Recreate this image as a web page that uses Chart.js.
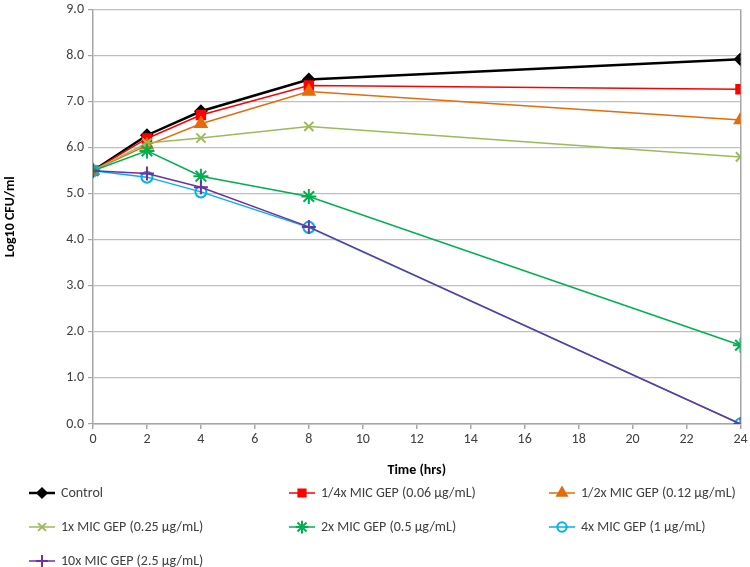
<!DOCTYPE html>
<html>
<head>
<meta charset="utf-8">
<script src="https://cdn.jsdelivr.net/npm/chart.js"></script>
<style>
  html, body { margin: 0; padding: 0; background: #fff; }
  #wrap { width: 750px; height: 567px; position: relative; }
</style>
</head>
<body>
<div id="wrap"><canvas id="chart" width="750" height="567"></canvas></div>
<script>
// Time points (hrs)
const times = [0, 2, 4, 8, 24]

// Log10 CFU/ml for each treatment
const control   = [5.50, 6.27, 6.79, 7.48, 7.92]
const quarterX  = [5.50, 6.20, 6.71, 7.35, 7.27]
const halfX     = [5.50, 6.05, 6.52, 7.22, 6.60]
const oneX      = [5.50, 6.10, 6.21, 6.46, 5.80]
const twoX      = [5.50, 5.93, 5.38, 4.94, 1.71]
const fourX     = [5.50, 5.36, 5.04, 4.27, 0.00]
const tenX      = [5.50, 5.44, 5.14, 4.28, 0.00]

const seriesLabels = [
  'Control',
  '1/4x MIC GEP (0.06 µg/mL)',
  '1/2x MIC GEP (0.12 µg/mL)',
  '1x MIC GEP (0.25 µg/mL)',
  '2x MIC GEP (0.5 µg/mL)',
  '4x MIC GEP (1 µg/mL)',
  '10x MIC GEP (2.5 µg/mL)'
]

const FONT = "Carlito, 'Liberation Sans Narrow', 'Open Sans', sans-serif"
const textColor = '#404040'
const gridColor = '#bfbfbf'
const axisColor = '#a6a6a6'

const toPoints = vals => vals.map((v, i) => ({ x: times[i], y: v }))

const styles = [
  { color: '#000000', point: 'rectRot', radius: 5.5, width: 2.5, fill: true },
  { color: '#ff0000', point: 'rect', radius: 6, width: 1.5, fill: true },
  { color: '#e46c0a', point: 'triangle', radius: 6.5, width: 1.5, fill: true },
  { color: '#9bbb59', point: 'crossRot', radius: 6.5, width: 1.5, fill: false },
  { color: '#00b050', point: 'star', radius: 7.5, width: 1.5, fill: false },
  { color: '#00b0f0', point: 'circle', radius: 5.5, width: 1.5, fill: false },
  { color: '#7030a0', point: 'cross', radius: 7, width: 1.5, fill: false }
]

const allValues = [control, quarterX, halfX, oneX, twoX, fourX, tenX]

// later series are drawn on top, like the original
const datasets = allValues.map((vals, i) => ({
  label: seriesLabels[i],
  data: toPoints(vals),
  order: allValues.length - i,
  borderColor: styles[i].color,
  backgroundColor: styles[i].fill ? styles[i].color : 'rgba(0,0,0,0)',
  borderWidth: styles[i].width,
  pointStyle: styles[i].point,
  pointRadius: styles[i].radius,
  pointBorderWidth: 2,
  pointBorderColor: styles[i].color,
  pointBackgroundColor: styles[i].fill ? styles[i].color : 'rgba(0,0,0,0)',
  tension: 0
}))

// Legend in three fixed columns under the chart
const legendPlugin = {
  id: 'gridLegend',
  afterDraw(chart) {
    const ctx = chart.ctx
    const colX = [42, 302, 562]
    const rowY = [493, 527, 561]
    ctx.save()
    ctx.font = '14px ' + FONT
    ctx.textBaseline = 'middle'
    ctx.textAlign = 'left'
    seriesLabels.forEach((label, i) => {
      const cx = colX[i % 3]
      const cy = rowY[Math.floor(i / 3)]
      const s = styles[i]
      ctx.strokeStyle = s.color
      ctx.lineWidth = s.width
      ctx.beginPath()
      ctx.moveTo(cx - 13, cy)
      ctx.lineTo(cx + 13, cy)
      ctx.stroke()
      ctx.fillStyle = s.fill ? s.color : 'rgba(0,0,0,0)'
      ctx.lineWidth = 2
      Chart.helpers.drawPoint(ctx, {
        pointStyle: s.point,
        radius: s.radius * 0.85,
        rotation: 0,
        borderWidth: 2
      }, cx, cy)
      ctx.fillStyle = textColor
      ctx.fillText(label, cx + 19, cy)
    })
    ctx.restore()
  }
}

new Chart(document.getElementById('chart'), {
  type: 'line',
  data: { datasets },
  plugins: [legendPlugin],
  options: {
    responsive: false,
    animation: false,
    layout: { padding: { left: 2, right: 9, top: 5, bottom: 88 } },
    plugins: {
      legend: { display: false },
      tooltip: { enabled: false }
    },
    scales: {
      x: {
        type: 'linear',
        min: 0,
        max: 24,
        ticks: {
          stepSize: 2,
          color: textColor,
          font: { family: FONT, size: 14 },
          padding: 2
        },
        grid: {
          color: ctx => ctx.tick && ctx.tick.value === 24 ? axisColor : 'rgba(0,0,0,0)',
          tickColor: axisColor,
          tickLength: 5,
          lineWidth: 1.5
        },
        border: { color: axisColor, width: 1.5 },
        title: {
          display: true,
          text: 'Time (hrs)',
          color: '#000',
          font: { family: FONT, size: 14, weight: 'bold' },
          padding: { top: 6, bottom: 0 }
        },
        afterFit(scale) { scale.height = 55 }
      },
      y: {
        min: 0,
        max: 9,
        ticks: {
          stepSize: 1,
          color: textColor,
          font: { family: FONT, size: 14 },
          padding: 4,
          callback: v => Number(v).toFixed(1)
        },
        grid: {
          color: gridColor,
          tickColor: axisColor,
          tickLength: 5,
          lineWidth: 1.2
        },
        border: { color: axisColor, width: 1.5 },
        title: {
          display: true,
          text: 'Log10 CFU/ml',
          color: '#000',
          font: { family: FONT, size: 14, weight: 'bold' },
          padding: { top: 0, bottom: 14 }
        },
        afterFit(scale) {
          scale.width = 91
          scale.paddingTop = 0
        }
      }
    }
  }
})
</script>
</body>
</html>
